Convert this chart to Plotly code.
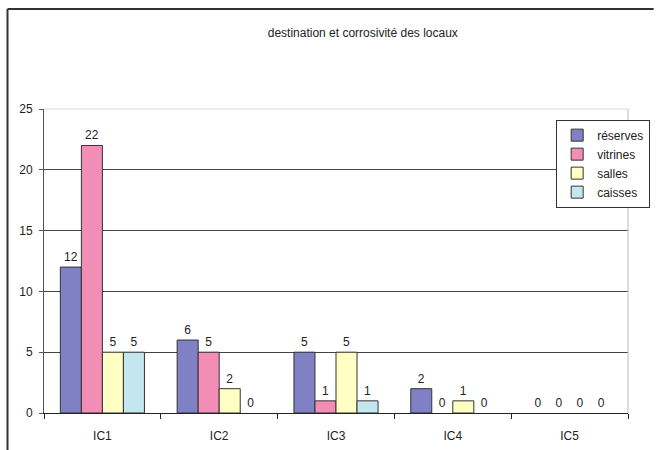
import plotly.graph_objects as go

categories = ["IC1", "IC2", "IC3", "IC4", "IC5"]
reserves = [12, 6, 5, 2, 0]
vitrines = [22, 5, 1, 0, 0]
salles = [5, 2, 5, 1, 0]
caisses = [5, 0, 1, 0, 0]
series_names = ["réserves", "vitrines", "salles", "caisses"]
colors = ["#8080C4", "#F28DB6", "#FFFFC4", "#C4E6EE"]
y_ticks = [0, 5, 10, 15, 20, 25]

fig = go.Figure()
for name, vals, col in zip(series_names, [reserves, vitrines, salles, caisses], colors):
    fig.add_trace(go.Bar(
        x=categories, y=vals, name=name,
        marker=dict(color=col, line=dict(color="#333333",
                                         width=[1 if v > 0 else 0 for v in vals])),
        text=[str(v) for v in vals], textposition="outside",
        textfont=dict(family="Arial, Liberation Sans", size=12, color="#222"),
        cliponaxis=False,
    ))

fig.update_layout(
    width=662, height=450,
    margin=dict(l=44, r=26, t=109, b=37),
    paper_bgcolor="white", plot_bgcolor="white",
    barmode="group", bargap=0.28, bargroupgap=0,
    font=dict(family="Arial, Liberation Sans", size=12, color="#222"),
    title=dict(text="destination et corrosivité des locaux", x=0.548, xanchor="center",
               y=1 - 33 / 450, yanchor="middle", font=dict(size=12, color="#222")),
    showlegend=True,
    legend=dict(x=0.877, y=0.965, xanchor="left", yanchor="top",
                bgcolor="white", bordercolor="#333", borderwidth=1,
                font=dict(size=12, color="#222"), itemwidth=30, tracegroupgap=0),
    xaxis=dict(showline=True, linecolor="#222", linewidth=1, ticks="outside",
               tickson="boundaries", ticklen=5, tickcolor="#222",
               ticklabelstandoff=12, automargin=False,
               showgrid=False, tickfont=dict(size=12, color="#222")),
    yaxis=dict(range=[0, 25], tickvals=y_ticks, showline=True, linecolor="#555",
               linewidth=1, ticks="outside", ticklen=4, tickcolor="#555",
               ticklabelstandoff=4, automargin=False,
               showgrid=True, gridcolor="#444", gridwidth=1, zeroline=False,
               tickfont=dict(size=12, color="#222")),
    shapes=[
        dict(type="line", xref="paper", yref="paper", x0=0, x1=1, y0=1, y1=1,
             line=dict(color="#d8d8d8", width=1), layer="above"),
        dict(type="line", xref="paper", yref="paper", x0=1, x1=1, y0=0, y1=1,
             line=dict(color="#bbbbbb", width=1), layer="above"),
        dict(type="line", xref="paper", yref="paper", x0=(7 - 44) / 592, x1=(662 - 44) / 592,
             y0=(413 - 9) / 304, y1=(413 - 9) / 304, line=dict(color="#333", width=2)),
        dict(type="line", xref="paper", yref="paper", x0=(7 - 44) / 592, x1=(7 - 44) / 592,
             y0=(413 - 9) / 304, y1=(413 - 452) / 304, line=dict(color="#333", width=2)),
    ],
)

fig.write_html("out.html")
